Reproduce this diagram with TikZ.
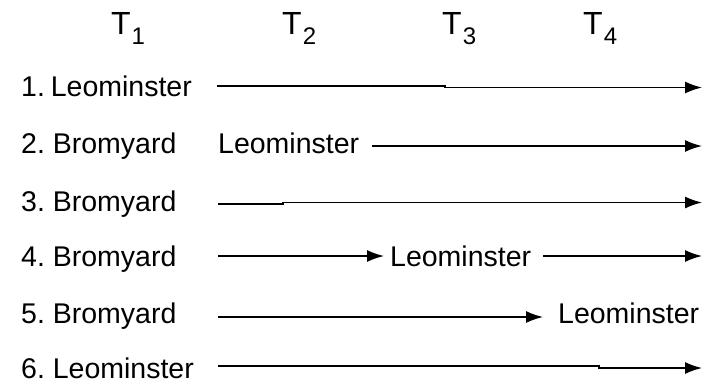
\documentclass[tikz,border=0pt]{standalone}
\usepackage{fontspec}
\setmainfont{Liberation Sans}
\usetikzlibrary{arrows.meta}
\begin{document}
\frenchspacing
\begin{tikzpicture}[x=1pt,y=-1pt,
  lbl/.style={anchor=base west,inner sep=0pt,font=\fontsize{28.5}{30}\selectfont},
  tlbl/.style={anchor=base west,inner sep=0pt,font=\fontsize{32}{34}\selectfont},
  arr/.style={line width=1.5pt,-{Latex[length=17pt,width=12pt]}}]
\useasboundingbox (0,0) rectangle (711,383);
\newcommand{\tsub}[1]{T\kern1pt\raisebox{-10pt}{\fontsize{24}{25}\selectfont #1}}
% time headers
\node[tlbl] (t1) at (111,34) {\tsub{1}};
\node[tlbl] (t2) at (282,34) {\tsub{2}};
\node[tlbl] (t3) at (442,34) {\tsub{3}};
\node[tlbl] (t4) at (583,34) {\tsub{4}};
% left labels
\node[lbl] (l1) at (21,96) {1.\kern-2pt\ Leominster};
\node[lbl] (l2) at (21,153) {2. Bromyard};
\node[lbl] (l3) at (21,211) {3. Bromyard};
\node[lbl] (l4) at (21,266) {4. Bromyard};
\node[lbl] (l5) at (21,323) {5. Bromyard};
\node[lbl] (l6) at (21,378) {6. Leominster};
% middle labels
\node[lbl] (m2) at (218,153) {Leominster};
\node[lbl] (m4) at (390,266) {Leominster};
\node[lbl] (m5) at (558,323) {Leominster};
% coordinates
\coordinate (s1) at (217,86);   \coordinate (j1a) at (445,86);  \coordinate (j1b) at (445,87.5); \coordinate (e1) at (702,87.5);
\coordinate (s2) at (372,146);  \coordinate (e2) at (702,146);
\coordinate (s3) at (218,204);  \coordinate (j3a) at (283,204); \coordinate (j3b) at (283,202.5); \coordinate (e3) at (702,202.5);
\coordinate (s4) at (218,256);  \coordinate (e4a) at (384,256); \coordinate (s4b) at (543,256); \coordinate (e4) at (702,256);
\coordinate (s5) at (218,317);  \coordinate (e5) at (543,317);
\coordinate (s6) at (218,366);  \coordinate (j6a) at (599,366); \coordinate (j6b) at (599,368); \coordinate (e6) at (702,368);
% connectors
\draw[arr] (s1) -- (j1a) -- (j1b) -- (e1);
\draw[arr] (s2) -- (e2);
\draw[arr] (s3) -- (j3a) -- (j3b) -- (e3);
\draw[arr] (s4) -- (e4a);
\draw[arr] (s4b) -- (e4);
\draw[arr] (s5) -- (e5);
\draw[arr] (s6) -- (j6a) -- (j6b) -- (e6);
\end{tikzpicture}
\end{document}
